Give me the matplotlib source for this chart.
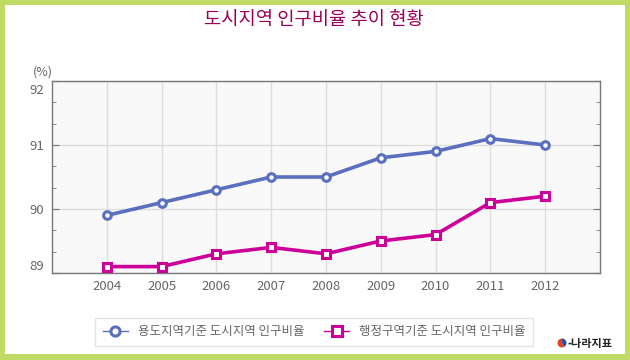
import matplotlib
matplotlib.use('Agg')
import matplotlib.pyplot as plt
from matplotlib.patches import Rectangle, Wedge
from matplotlib.ticker import MultipleLocator
from matplotlib.transforms import ScaledTranslation

plt.rcParams['font.family'] = ['Noto Sans CJK KR', 'DejaVu Sans']

years = [2004, 2005, 2006, 2007, 2008, 2009, 2010, 2011, 2012]
usage_zone = [89.9, 90.1, 90.3, 90.5, 90.5, 90.8, 90.9, 91.1, 91.0]
admin_zone = [89.1, 89.1, 89.3, 89.4, 89.3, 89.5, 89.6, 90.1, 90.2]
series_names = ['용도지역기준 도시지역 인구비율', '행정구역기준 도시지역 인구비율']
title = '도시지역 인구비율 추이 현황'

W, H = 630, 360
fig = plt.figure(figsize=(W / 100, H / 100), dpi=100)
fig.patch.set_facecolor('#c0da66')
# 흰 바탕 (초록 테두리 안쪽)
fig.patches.append(Rectangle((5 / W, 6 / H), (W - 10) / W, (H - 11) / H,
                             transform=fig.transFigure, facecolor='white',
                             edgecolor='none', zorder=-5))

ax = fig.add_axes([52 / W, (H - 273) / H, (600 - 52) / W, (273 - 81) / H])
ax.set_facecolor('#f9f9f9')

ax.plot(years, usage_zone, color='#5a6fbe', lw=2.6, marker='o', ms=5.5,
        mfc='white', mec='#5a6fbe', mew=2.2, label=series_names[0], zorder=3)
ax.plot(years, admin_zone, color='#cc0099', lw=2.6, marker='s', ms=5.5,
        mfc='white', mec='#cc0099', mew=2.2, label=series_names[1], zorder=3)

ax.set_xlim(2003, 2013)
ax.set_ylim(89, 92)
ax.set_xticks(years)
ax.set_yticks([89, 90, 91, 92])
ax.yaxis.set_minor_locator(MultipleLocator(1 / 3))
ax.grid(True, which='major', color='#dddddd', lw=1)
ax.set_axisbelow(True)

for side in ['left', 'bottom', 'top', 'right']:
    ax.spines[side].set_color('#777777')
    ax.spines[side].set_linewidth(1)
ax.tick_params(axis='y', which='major', direction='in', length=5, color='#777777',
               labelcolor='#666666', labelsize=9.5, right=True, pad=6)
ax.tick_params(axis='y', which='minor', direction='in', length=3, color='#777777', right=True)
ax.tick_params(axis='x', length=0, labelcolor='#666666', labelsize=9.5, pad=5)

# 맨 위/맨 아래 눈금 글자는 안쪽으로 조금 옮김
ylabels = ax.get_yticklabels()
ylabels[0].set_transform(ylabels[0].get_transform() + ScaledTranslation(0, 8 / 100, fig.dpi_scale_trans))
ylabels[-1].set_transform(ylabels[-1].get_transform() + ScaledTranslation(0, -8 / 100, fig.dpi_scale_trans))

fig.text(33 / W, 1 - 72 / H, '(%)', color='#666666', fontsize=9, va='center', ha='left')
fig.text(314 / W, 1 - 20 / H, title, color='#990055', fontsize=13.5, ha='center', va='center')

leg = fig.legend(loc='center', bbox_to_anchor=(314 / W, 1 - 332 / H), ncol=2,
                 frameon=True, fancybox=False, fontsize=9, handlelength=2.0,
                 columnspacing=1.6, borderpad=0.6, markerscale=1.2)
leg.get_frame().set_edgecolor('#dddddd')
leg.get_frame().set_linewidth(1)
for t in leg.get_texts():
    t.set_color('#666666')
for h in leg.legend_handles:
    h.set_linewidth(1)

# 나라지표 로고
cy = 1 - 343 / H
fig.patches.append(Wedge((562, H - 343), 4.5, 90, 300, transform=None,
                         facecolor='#e8401c', edgecolor='none'))
fig.patches.append(Wedge((562, H - 343), 4.5, 300, 450, transform=None,
                         facecolor='#2a4f9e', edgecolor='none'))
fig.text(568 / W, cy, '-나라지표', fontsize=8, color='#222222', va='center',
         ha='left', fontweight='bold')

fig.savefig('out.png', dpi=100)
